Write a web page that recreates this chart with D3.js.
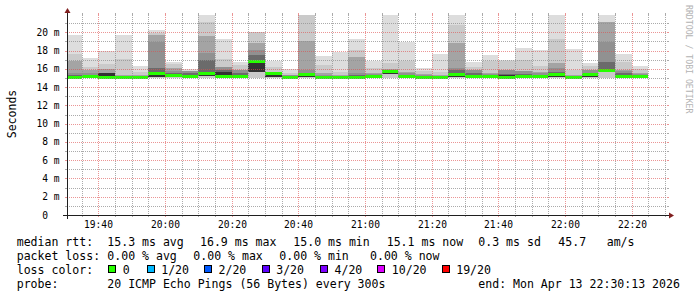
<!DOCTYPE html>
<html>
<head>
<meta charset="utf-8">
<script src="https://cdn.jsdelivr.net/npm/d3@7"></script>
<style>
  html, body { margin: 0; padding: 0; background: #fff; }
  svg text { font-family: "DejaVu Sans Mono", monospace; white-space: pre; }
</style>
</head>
<body>
<svg id="chart" width="697" height="297"></svg>
<script>
// 5-minute steps (start of each step)
const steps = ["19:30","19:35","19:40","19:45","19:50","19:55","20:00","20:05","20:10","20:15",
  "20:20","20:25","20:30","20:35","20:40","20:45","20:50","20:55","21:00","21:05",
  "21:10","21:15","21:20","21:25","21:30","21:35","21:40","21:45","21:50","21:55",
  "22:00","22:05","22:10","22:15","22:20"];

// smoke layers, ms (upper edge of each ping-pair band, outermost first)
const smokeTop1 = [19.7,17.2,18.0,19.7,16.3,20.25,16.8,16.0,22.5,19.25,16.8,20.05,16.9,16.0,22.5,17.4,17.9,19.25,16.9,22.5,
  18.9,16.05,17.6,22.5,16.8,17.5,17.0,18.25,18.05,22.5,18.15,16.65,22.5,17.6,16.3];
const smokeTop2 = [17.6,16.2,16.5,17.05,15.7,19.95,16.5,15.8,21.1,17.05,16.4,20.0,16.25,15.6,22.3,16.4,15.7,18.1,16.1,16.6,
  16.85,15.76,15.7,20.85,16.2,16.85,16.85,16.97,16.35,19.3,15.85,16.3,21.15,16.7,15.95];
const smokeTop4 = [16.9,15.87,15.95,15.35,15.35,19.7,16.05,15.76,19.6,16.25,15.87,18.8,15.7,15.35,19.1,15.5,15.3,17.3,15.5,16.0,
  15.7,15.4,15.35,18.8,15.87,15.5,15.87,15.8,15.65,16.6,15.35,15.9,21.1,15.87,15.55];
const smokeTop5 = [15.5,15.5,15.6,15.25,15.25,18.97,15.8,15.75,17.7,16.2,15.85,18.06,15.6,15.3,15.9,15.35,15.2,15.6,15.4,15.87,
  15.6,15.3,15.25,16.05,15.85,15.4,15.85,15.75,15.6,16.05,15.25,15.85,18.9,15.8,15.45];
const smokeTop7 = [15.3,15.3,15.55,15.15,15.15,16.1,15.5,15.5,16.97,15.87,15.5,17.5,15.55,15.2,15.6,15.25,15.15,15.3,15.3,15.8,
  15.35,15.2,15.15,15.87,15.5,15.3,15.45,15.45,15.35,15.7,15.15,15.6,16.8,15.5,15.35];
const smokeTop10 = [15.2,15.2,15.5,15.1,15.1,15.6,15.35,15.35,15.6,15.7,15.3,16.97,15.5,15.15,15.4,15.15,15.1,15.2,15.2,15.75,
  15.25,15.1,15.1,15.5,15.3,15.25,15.3,15.3,15.25,15.5,15.1,15.45,15.95,15.35,15.25];
// lower edge of the inner bands and of the whole smoke
const smokeLow = [15.0,15.05,15.05,15.0,15.0,15.15,15.1,15.1,15.2,15.05,15.1,15.7,15.15,15.0,15.1,15.0,15.0,15.0,15.05,15.45,
  15.05,15.0,15.0,15.15,15.05,15.05,15.0,15.05,15.05,15.1,15.0,15.15,15.75,15.05,15.05];
const pingMin = [14.9,14.95,14.95,14.9,14.9,14.95,14.95,14.95,14.95,14.95,14.95,14.97,14.95,14.95,14.95,14.9,14.9,14.95,14.95,14.95,
  14.95,14.9,14.9,14.95,14.95,14.95,14.9,14.95,14.95,14.95,14.9,14.95,14.97,14.95,14.95];
const medianRtt = [15.1,15.15,15.1,15.05,15.05,15.5,15.3,15.2,15.5,15.15,15.2,16.85,15.5,15.1,15.35,15.1,15.05,15.1,15.15,15.72,
  15.2,15.05,15.05,15.38,15.15,15.2,15.05,15.15,15.2,15.4,15.05,15.35,15.85,15.15,15.18];

const yMajorTicks = [0, 2, 4, 6, 8, 10, 12, 14, 16, 18, 20];
const yTickLabels = ["0  ", "2 m", "4 m", "6 m", "8 m", "10 m", "12 m", "14 m", "16 m", "18 m", "20 m"];
const yMinorTicks = [1, 3, 5, 7, 9, 11, 13, 15, 17, 19, 21];
const xTickLabels = ["19:40", "20:00", "20:20", "20:40", "21:00", "21:20", "21:40", "22:00", "22:20"];

const rowLabels = ["median rtt:", "packet loss:", "loss color:", "probe:"];
const rttStats = ["15.3 ms avg", "16.9 ms max", "15.0 ms min", "15.1 ms now", "0.3 ms sd", "45.7", "am/s"];
const lossStats = ["0.00 % avg", "0.00 % max", "0.00 % min", "0.00 % now"];
const lossLevels = ["0", "1/20", "2/20", "3/20", "4/20", "10/20", "19/20"];
const lossColors = ["#26ff00", "#00b8ff", "#0059ff", "#5e00ff", "#7e00ff", "#dd00ff", "#ff0000"];
const probeText = "20 ICMP Echo Pings (56 Bytes) every 300s";
const endText = "end: Mon Apr 13 22:30:13 2026";

// ---- layout ----
const plot = { left: 67, right: 667, top: 15, bottom: 215 };
const rttX = [107.3, 200, 293.3, 386.7, 478.3, 558.3, 606.7];
const lossX = [107.3, 193.3, 279.3, 370];
const boxX = [108.3, 146.7, 204, 261.7, 320, 377.3, 441.7];
const legendBase = [245.5, 259.5, 273.5, 287.5];

const hm = s => { const [h, m] = s.split(":").map(Number); return new Date(2026, 3, 13, h, m, 0); };

const svg = d3.select("#chart");
svg.append("rect").attr("width", 697).attr("height", 297).attr("fill", "#fff");

const x = d3.scaleTime()
  .domain([new Date(2026, 3, 13, 19, 30, 37), new Date(2026, 3, 13, 22, 30, 37)])
  .range([plot.left, plot.right]);
const y = d3.scaleLinear().domain([0, 21.9]).range([plot.bottom, plot.top]);

svg.append("clipPath").attr("id", "plotclip")
  .append("rect")
  .attr("x", plot.left).attr("y", plot.top)
  .attr("width", plot.right - plot.left).attr("height", plot.bottom - plot.top);

const bars = steps.map((s, i) => ({
  t0: hm(s),
  t1: d3.timeMinute.offset(hm(s), 5),
  top1: smokeTop1[i], top2: smokeTop2[i], top4: smokeTop4[i],
  top5: smokeTop5[i], top7: smokeTop7[i], top10: smokeTop10[i],
  low: smokeLow[i], min: pingMin[i], median: medianRtt[i]
}));

// smokeping grey levels for pair index 1,2,4,5,7,10 of 20 pings
const layers = [
  { top: "top1", bottom: "min", color: "#dddddd" },
  { top: "top2", bottom: "min", color: "#cacaca" },
  { top: "top4", bottom: "low", color: "#a4a4a4" },
  { top: "top5", bottom: "low", color: "#919191" },
  { top: "top7", bottom: "low", color: "#6b6b6b" },
  { top: "top10", bottom: "low", color: "#323232" }
];

const dataG = svg.append("g").attr("clip-path", "url(#plotclip)");

layers.forEach(layer => {
  dataG.append("g").selectAll("rect")
    .data(bars)
    .join("rect")
    .attr("shape-rendering", "crispEdges")
    .attr("x", d => Math.round(x(d.t0)))
    .attr("width", d => Math.round(x(d.t1)) - Math.round(x(d.t0)))
    .attr("y", d => y(d[layer.top]))
    .attr("height", d => Math.max(0, y(d[layer.bottom]) - y(d[layer.top])))
    .attr("fill", layer.color);
});

dataG.append("g").selectAll("rect")
  .data(bars)
  .join("rect")
  .attr("shape-rendering", "crispEdges")
  .attr("x", d => Math.round(x(d.t0)))
  .attr("width", d => Math.round(x(d.t1)) - Math.round(x(d.t0)))
  .attr("y", d => Math.round(y(d.median) - 1.5))
  .attr("height", 3)
  .attr("fill", lossColors[0]);

// ---- grid ----
const minorColor = "rgba(143,143,143,0.75)";
const majorColor = "rgba(222,79,79,0.6)";
const gridG = svg.append("g").attr("shape-rendering", "crispEdges");
const px = v => Math.round(v) + 0.5;

function hLine(v, color) {
  const yy = px(y(v));
  gridG.append("line").attr("x1", plot.left).attr("x2", plot.right).attr("y1", yy).attr("y2", yy)
    .attr("stroke", color).attr("stroke-dasharray", "1,1");
  gridG.append("line").attr("x1", plot.left - 2).attr("x2", plot.left).attr("y1", yy).attr("y2", yy).attr("stroke", color);
  gridG.append("line").attr("x1", plot.right).attr("x2", plot.right + 2).attr("y1", yy).attr("y2", yy).attr("stroke", color);
}
function vLine(t, color) {
  const xx = px(x(t));
  gridG.append("line").attr("x1", xx).attr("x2", xx).attr("y1", plot.top).attr("y2", plot.bottom)
    .attr("stroke", color).attr("stroke-dasharray", "1,1");
  gridG.append("line").attr("x1", xx).attr("x2", xx).attr("y1", plot.top - 2).attr("y2", plot.top).attr("stroke", color);
  gridG.append("line").attr("x1", xx).attr("x2", xx).attr("y1", plot.bottom).attr("y2", plot.bottom + 2).attr("stroke", color);
}

yMinorTicks.filter(v => v <= y.domain()[1]).forEach(v => hLine(v, minorColor));
yMajorTicks.filter(v => v > 0).forEach(v => hLine(v, majorColor));

const minorTimes = x.ticks(d3.timeMinute.every(5)).filter(t => t.getMinutes() % 20 !== 0);
const majorTimes = xTickLabels.map(hm);
minorTimes.forEach(t => vLine(t, minorColor));
majorTimes.forEach(t => vLine(t, majorColor));

// ---- axes ----
const axisG = svg.append("g").attr("shape-rendering", "crispEdges");
axisG.append("line").attr("x1", plot.left - 4).attr("x2", plot.right + 4)
  .attr("y1", plot.bottom + 0.5).attr("y2", plot.bottom + 0.5).attr("stroke", "#1f1f1f");
axisG.append("line").attr("x1", plot.left + 0.5).attr("x2", plot.left + 0.5)
  .attr("y1", plot.bottom + 4).attr("y2", plot.top - 4).attr("stroke", "#1f1f1f");

svg.append("path")
  .attr("d", `M${plot.right + 2},${plot.bottom - 2.5}L${plot.right + 2},${plot.bottom + 3.5}L${plot.right + 7},${plot.bottom + 0.5}Z`)
  .attr("fill", "#801f1f");
svg.append("path")
  .attr("d", `M${plot.left - 2.5},${plot.top - 2}L${plot.left + 3.5},${plot.top - 2}L${plot.left + 0.5},${plot.top - 7}Z`)
  .attr("fill", "#801f1f");

// tick labels
svg.append("g").selectAll("text")
  .data(yMajorTicks)
  .join("text")
  .attr("x", 59.5)
  .attr("y", d => y(d) + 3.5)
  .attr("text-anchor", "end")
  .attr("font-size", "9.6px")
  .attr("fill", "#000")
  .text((d, i) => yTickLabels[i]);

svg.append("g").selectAll("text")
  .data(majorTimes)
  .join("text")
  .attr("x", d => px(x(d)))
  .attr("y", 227.5)
  .attr("text-anchor", "middle")
  .attr("font-size", "9.6px")
  .attr("fill", "#000")
  .text((d, i) => xTickLabels[i]);

svg.append("text")
  .attr("transform", "translate(11.5,114) rotate(-90)")
  .attr("dy", "0.35em")
  .attr("text-anchor", "middle")
  .attr("font-size", "11.5px")
  .attr("fill", "#000")
  .text("Seconds");

svg.append("text")
  .attr("transform", "translate(686,5) rotate(90)")
  .attr("font-size", "8.2px")
  .attr("fill", "#b3b3b3")
  .text("RRDTOOL / TOBI OETIKER");

// ---- legend ----
const legG = svg.append("g").attr("font-size", "11.55px").attr("fill", "#000");
rowLabels.forEach((t, i) => legG.append("text").attr("x", 16.7).attr("y", legendBase[i]).text(t));
rttStats.forEach((t, i) => legG.append("text").attr("x", rttX[i]).attr("y", legendBase[0]).text(t));
lossStats.forEach((t, i) => legG.append("text").attr("x", lossX[i]).attr("y", legendBase[1]).text(t));

lossLevels.forEach((t, i) => {
  legG.append("rect")
    .attr("x", Math.round(boxX[i]) + 0.5).attr("y", 265.5)
    .attr("width", 7).attr("height", 7)
    .attr("fill", lossColors[i]).attr("stroke", "#000").attr("stroke-width", 1)
    .attr("shape-rendering", "crispEdges");
  legG.append("text").attr("x", boxX[i] + 14.5).attr("y", legendBase[2]).text(t);
});

legG.append("text").attr("x", 107.3).attr("y", legendBase[3]).text(probeText);
legG.append("text").attr("x", 478.3).attr("y", legendBase[3]).text(endText);
</script>
</body>
</html>
